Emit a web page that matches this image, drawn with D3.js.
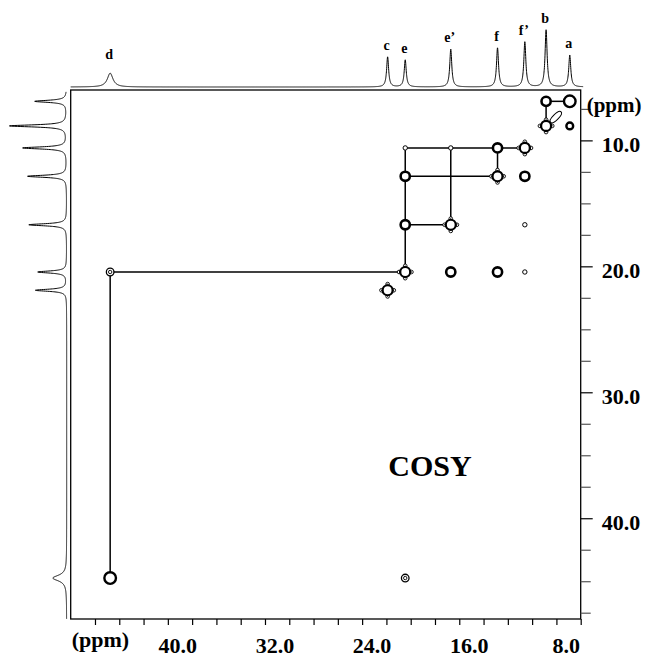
<!DOCTYPE html>
<html>
<head>
<meta charset="utf-8">
<script src="https://cdn.jsdelivr.net/npm/d3@7"></script>
<style>
  html, body { margin: 0; padding: 0; background: #fff; }
  svg { display: block; }
  text { font-family: "Liberation Serif", "Times New Roman", serif; font-weight: bold; fill: #000; }
</style>
</head>
<body>
<svg id="chart" width="645" height="658"></svg>
<script>
// ---------- data ----------
const peakLabels    = ["d", "c", "e", "e’", "f", "f’", "b", "a"];
const peakShifts    = [44.75, 21.9, 20.45, 16.7, 12.85, 10.6, 8.85, 6.9];   // ppm
const topIntensity  = [23, 50, 45, 63, 65, 75, 95, 53];                    // relative
const leftIntensity = [23, 52, 48, 63, 65, 73, 95, 53];                    // relative
const peakWidths    = [0.28, 0.1, 0.1, 0.1, 0.1, 0.1, 0.1, 0.1];           // ppm (half width)

// 2D contour peaks: [F2 label (x), F1 label (y), kind]
const crossPeaks = [
  ["a", "a", "ringL"], ["b", "a", "ringB"], ["b", "b", "diag"], ["a", "b", "ringS"],
  ["e", "f’", "tiny"], ["e’", "f’", "tiny"], ["f", "f’", "ringB"], ["f’", "f’", "diag"],
  ["e", "f", "ringB"], ["f", "f", "diag"], ["f’", "f", "ringB"],
  ["e", "e’", "ringB"], ["e’", "e’", "diag"], ["f’", "e’", "tiny"],
  ["d", "e", "double"], ["e", "e", "diag"], ["e’", "e", "ringB"], ["f", "e", "ringB"], ["f’", "e", "tiny"],
  ["c", "c", "diag"],
  ["d", "d", "ringL"], ["e", "d", "double"]
];
// streak artefact near the b diagonal peak (ppm)
const streakX = [8.05];
const streakY = [8.15];

// correlation walk segments: [x1, y1, x2, y2] as labels
const walks = [
  ["d", "d", "d", "e"], ["d", "e", "e", "e"], ["e", "e", "e", "f’"], ["e", "f’", "f’", "f’"],
  ["e", "f", "f", "f"], ["e’", "f’", "e’", "e’"], ["e", "e’", "e’", "e’"], ["f", "f’", "f", "f"],
  ["b", "a", "a", "a"], ["b", "a", "b", "b"]
];

const bottomTicks  = [46, 44, 42, 40, 38, 36, 34, 32, 30, 28, 26, 24, 22, 20, 18, 16, 14, 12, 10, 8, 6];
const bottomLabels = [40, 32, 24, 16, 8];
const rightTicks   = [7.5, 10, 12.5, 15, 17.5, 20, 22.5, 25, 27.5, 30, 32.5, 35, 37.5, 40, 42.5, 45, 47.5];
const rightLabels  = [10, 20, 30, 40];
const axisUnit = "(ppm)";
const title = "COSY";

// ---------- layout ----------
const svg = d3.select("#chart");
const L = 70.7, R = 580.7, T = 90, B = 619;
const x = d3.scaleLinear().domain([48, 6]).range([L, R]);
const y = d3.scaleLinear().domain([6, 48]).range([T, B]);
const shiftOf = Object.fromEntries(peakLabels.map((l, i) => [l, peakShifts[i]]));

// projection scales
const topBase = 87, leftBase = 66.7;
const hScale = d3.scaleLinear().domain([0, 100]).range([0, 60]);

function spectrum(ppm, intens) {
  let s = 0;
  for (let i = 0; i < peakShifts.length; i++) {
    const g = peakWidths[i], d = ppm - peakShifts[i];
    s += intens[i] * g * g / (d * d + g * g);
  }
  return s;
}

// top projection
const topSamples = d3.range(48, 5.79, -0.01);
svg.append("path")
  .attr("d", d3.line().x(p => x(p)).y(p => topBase - hScale(spectrum(p, topIntensity)))(topSamples))
  .attr("fill", "none").attr("stroke", "#000").attr("stroke-width", 1);

// top labels
svg.append("g").selectAll("text").data(peakLabels).join("text")
  .attr("x", (d, i) => x(peakShifts[i]) - 1)
  .attr("y", (d, i) => topBase - hScale(topIntensity[i]) - (i === 0 ? 14 : 7))
  .attr("text-anchor", "middle").attr("font-size", 14)
  .text(d => d);

// left projection
const leftSamples = d3.range(6.15, 48.0, 0.01);
svg.append("path")
  .attr("d", d3.line().x(p => leftBase - hScale(spectrum(p, leftIntensity))).y(p => y(p))(leftSamples))
  .attr("fill", "none").attr("stroke", "#000").attr("stroke-width", 1);

// box
svg.append("rect").attr("x", L).attr("y", T).attr("width", R - L).attr("height", B - T)
  .attr("fill", "none").attr("stroke", "#000").attr("stroke-width", 1.3);

// bottom axis
const bAxis = svg.append("g").attr("transform", `translate(0,${B})`)
  .call(d3.axisBottom(x).tickValues(bottomTicks).tickSize(6).tickPadding(12)
    .tickFormat(v => bottomLabels.includes(v) ? d3.format(".1f")(v) : ""));
bAxis.select(".domain").remove();
bAxis.selectAll("line").attr("stroke", "#000").attr("stroke-width", 1.2);
bAxis.selectAll("text").attr("font-size", 22).attr("dx", 9.4)
  .attr("font-family", "'Liberation Serif', 'Times New Roman', serif").attr("font-weight", "bold");
svg.append("text").attr("x", 71.7).attr("y", 647).attr("font-size", 22).text(axisUnit);

// right axis
const rAxis = svg.append("g").attr("transform", `translate(${R},0)`)
  .call(d3.axisRight(y).tickValues(rightTicks).tickSize(11).tickPadding(10)
    .tickFormat(v => rightLabels.includes(v) ? d3.format(".1f")(v) : ""));
rAxis.select(".domain").remove();
rAxis.selectAll(".tick line")
  .attr("x2", v => rightLabels.includes(v) ? 12 : 10)
  .attr("stroke", v => rightLabels.includes(v) ? "#000" : "#555")
  .attr("stroke-width", 1.2);
rAxis.selectAll("text").attr("font-size", 22).attr("dy", "0.5em")
  .attr("font-family", "'Liberation Serif', 'Times New Roman', serif").attr("font-weight", "bold");
svg.append("text").attr("x", 586.7).attr("y", 112).attr("font-size", 21).text(axisUnit);

// correlation walks
svg.append("g").selectAll("line").data(walks).join("line")
  .attr("x1", d => x(shiftOf[d[0]])).attr("y1", d => y(shiftOf[d[1]]))
  .attr("x2", d => x(shiftOf[d[2]])).attr("y2", d => y(shiftOf[d[3]]))
  .attr("stroke", "#000").attr("stroke-width", 1.5);

// streak
svg.append("g").selectAll("ellipse").data(streakX).join("ellipse")
  .attr("transform", (d, i) => `translate(${x(d)},${y(streakY[i])}) rotate(-45)`)
  .attr("rx", 7.5).attr("ry", 2.8).attr("fill", "#fff").attr("stroke", "#000").attr("stroke-width", 1);

// contour peaks
const pk = svg.append("g");
crossPeaks.forEach(([a, b, kind]) => {
  const cx = x(shiftOf[a]), cy = y(shiftOf[b]);
  const g = pk.append("g").attr("transform", `translate(${cx},${cy})`);
  const ring = (r, w) => g.append("circle").attr("r", r).attr("fill", "#fff").attr("stroke", "#000").attr("stroke-width", w);
  if (kind === "ringL") ring(5.8, 2.4);
  else if (kind === "ringB") ring(4.6, 2.6);
  else if (kind === "ringS") ring(3.4, 2.4);
  else if (kind === "tiny") ring(2.2, 1);
  else if (kind === "double") { ring(3.8, 1.3); g.append("circle").attr("r", 1.7).attr("fill", "none").attr("stroke", "#000").attr("stroke-width", 0.9); }
  else if (kind === "diag") {
    [[0, -6.2], [6.2, 0], [0, 6.2], [-6.2, 0]].forEach(([dx, dy]) =>
      g.append("circle").attr("cx", dx).attr("cy", dy).attr("r", 1.8).attr("fill", "#fff").attr("stroke", "#000").attr("stroke-width", 0.9));
    g.append("path").attr("d", "M0,-6.2 L6.2,0 L0,6.2 L-6.2,0 Z").attr("fill", "#fff")
      .attr("stroke", "#000").attr("stroke-width", 1).attr("stroke-linejoin", "round");
    ring(5, 2.2);
  }
});

// title
svg.append("text").attr("x", 430).attr("y", 476).attr("text-anchor", "middle").attr("font-size", 30).text(title);
</script>
</body>
</html>
